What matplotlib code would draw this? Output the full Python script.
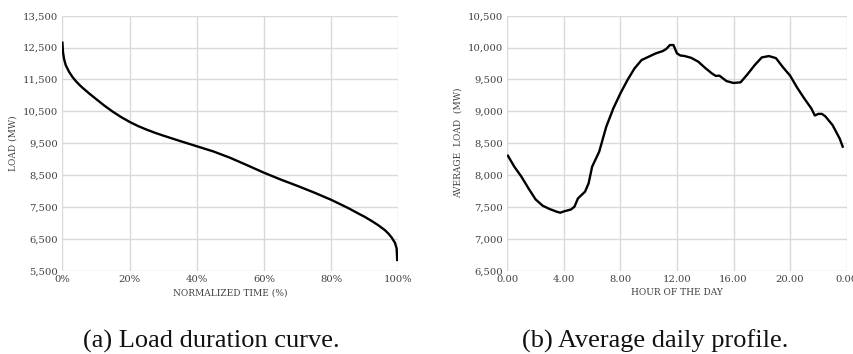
import matplotlib
matplotlib.use("Agg")
import matplotlib.pyplot as plt
from matplotlib.ticker import FuncFormatter, MultipleLocator

# ---- data: load duration curve ----
ldc_time = [0.000, 0.002, 0.005, 0.01, 0.02, 0.03, 0.04, 0.05, 0.06, 0.08, 0.10,
            0.125, 0.15, 0.175, 0.20, 0.225, 0.25, 0.275, 0.30, 0.35, 0.40, 0.45,
            0.50, 0.55, 0.60, 0.65, 0.70, 0.75, 0.80, 0.85, 0.88, 0.90, 0.92, 0.94,
            0.96, 0.97, 0.98, 0.99, 0.995, 0.997]
ldc_load = [12690, 12350, 12150, 11950, 11740, 11580, 11450, 11340, 11240, 11060, 10890,
            10680, 10490, 10320, 10170, 10040, 9930, 9830, 9740, 9570, 9405, 9240,
            9040, 8810, 8575, 8360, 8160, 7950, 7725, 7470, 7300, 7190, 7065, 6930,
            6773, 6670, 6544, 6377, 6200, 5800]

# ---- data: average daily profile ----
hours = [0, 0.5, 1, 1.5, 2, 2.5, 3, 3.5, 3.75, 4, 4.5, 4.75, 5, 5.5, 5.75, 6, 6.5,
         7, 7.5, 8, 8.5, 9, 9.5, 10, 10.5, 11, 11.25, 11.5, 11.75, 12, 12.25, 12.5,
         13, 13.5, 14, 14.5, 14.75, 15, 15.5, 16, 16.5, 17, 17.5, 18, 18.5, 19,
         19.5, 20, 20.5, 21, 21.5, 21.75, 22, 22.25, 22.5, 23, 23.5, 23.75]
avg_load = [8320, 8131, 7975, 7792, 7619, 7520, 7467, 7425, 7410, 7430, 7460, 7504,
            7635, 7740, 7870, 8131, 8367, 8759, 9046, 9282, 9491, 9674, 9805, 9857,
            9909, 9946, 9980, 10040, 10040, 9909, 9875, 9870, 9840, 9780, 9680, 9590,
            9555, 9560, 9475, 9445, 9455, 9585, 9726, 9846, 9867, 9835, 9690, 9560,
            9371, 9203, 9046, 8935, 8960, 8960, 8920, 8785, 8576, 8429]

ldc_yticks = [5500, 6500, 7500, 8500, 9500, 10500, 11500, 12500, 13500]
daily_yticks = [6500, 7000, 7500, 8000, 8500, 9000, 9500, 10000, 10500]
daily_xticks = [0, 4, 8, 12, 16, 20, 24]

TICK_COLOR = "#404040"
GRID_COLOR = "#d9d9d9"
SERIF = ["DejaVu Serif"]

fig = plt.figure(figsize=(8.54, 3.54), dpi=100)
ax1 = fig.add_axes([0.0730, 0.2353, 0.3934, 0.7203])
ax2 = fig.add_axes([0.5940, 0.2353, 0.3974, 0.7203])


def style(ax):
    for s in ax.spines.values():
        s.set_visible(False)
    ax.grid(True, color=GRID_COLOR, linewidth=1.0)
    ax.set_axisbelow(True)
    ax.tick_params(length=0, labelsize=7.2, colors=TICK_COLOR, pad=3)
    for lab in ax.get_xticklabels() + ax.get_yticklabels():
        lab.set_family(SERIF)


ax1.plot(ldc_time, ldc_load, color="black", linewidth=1.7, solid_capstyle="butt")
ax1.set_xlim(0, 1)
ax1.set_ylim(5500, 13500)
ax1.set_yticks(ldc_yticks)
ax1.xaxis.set_major_locator(MultipleLocator(0.2))
ax1.xaxis.set_major_formatter(FuncFormatter(lambda v, p: f"{v*100:.0f}%"))
ax1.yaxis.set_major_formatter(FuncFormatter(lambda v, p: f"{v:,.0f}"))
style(ax1)
ax1.set_xlabel("NORMALIZED TIME (%)", family=SERIF, fontsize=6.5, color=TICK_COLOR, labelpad=3)
ax1.set_ylabel("LOAD (MW)", family=SERIF, fontsize=6.5, color=TICK_COLOR, labelpad=4)

ax2.plot(hours, avg_load, color="black", linewidth=1.7, solid_capstyle="butt")
ax2.set_xlim(0, 24)
ax2.set_ylim(6500, 10500)
ax2.set_xticks(daily_xticks)
ax2.set_yticks(daily_yticks)
ax2.xaxis.set_major_formatter(FuncFormatter(lambda v, p: f"{v % 24:.2f}"))
ax2.yaxis.set_major_formatter(FuncFormatter(lambda v, p: f"{v:,.0f}"))
style(ax2)
ax2.set_xlabel("HOUR OF THE DAY", family=SERIF, fontsize=6.5, color=TICK_COLOR, labelpad=3)
ax2.set_ylabel("AVERAGE  LOAD  (MW)", family=SERIF, fontsize=6.5, color=TICK_COLOR, labelpad=4)

fig.text(211 / 854, 1 - 348 / 354, "(a) Load duration curve.", ha="center", va="baseline",
         family=["Liberation Serif"], fontsize=19, color="#111111")
fig.text(655 / 854, 1 - 348 / 354, "(b) Average daily profile.", ha="center", va="baseline",
         family=["Liberation Serif"], fontsize=19, color="#111111")

fig.savefig("out.png", dpi=100)
